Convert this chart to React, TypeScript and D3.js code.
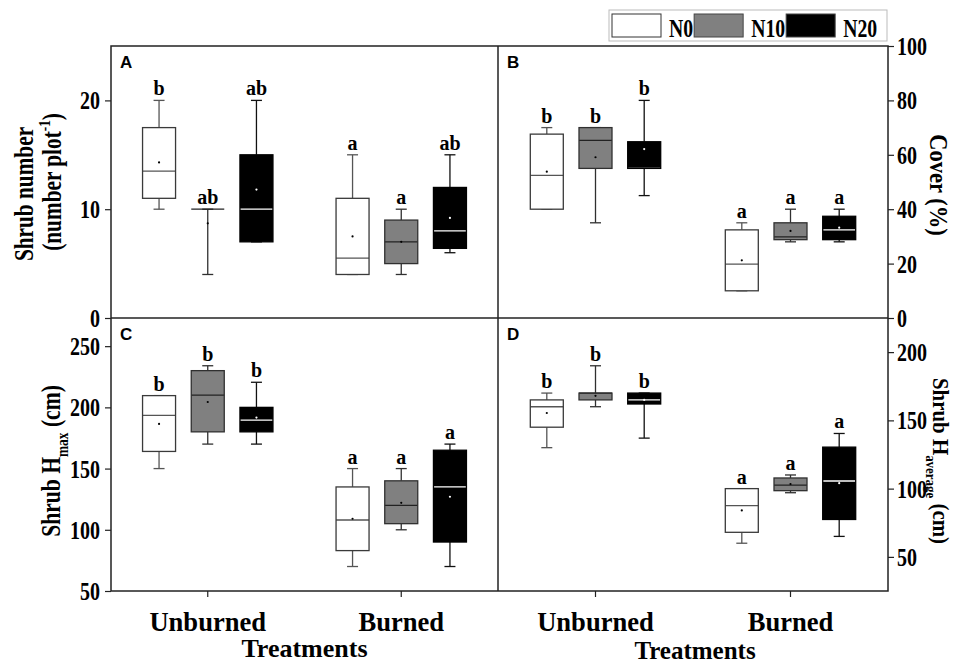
import * as d3 from "d3";
import { useEffect, useRef } from "react";

const treatments = ["Unburned", "Burned"];
const nLevels = ["N0", "N10", "N20"];

// each row: [min, q1, median, q3, max, mean], order: Unburned N0,N10,N20, Burned N0,N10,N20
const shrubNumber = [
  [10, 11, 13.5, 17.5, 20, 14.3],
  [4, 10, 10, 10, 10, 8.7],
  [7, 7, 10, 15, 20, 11.8],
  [4, 4, 5.5, 11, 15, 7.5],
  [4, 5, 7, 9, 10, 7.0],
  [6, 6.4, 8, 12, 15, 9.2],
];
const shrubNumberLetters = ["b", "ab", "ab", "a", "a", "ab"];

const cover = [
  [40, 40, 52.4, 67.6, 70, 53.8],
  [35, 55, 65.3, 70, 70, 59.1],
  [45, 55, 55, 64.8, 80, 62.1],
  [10, 10, 19.8, 32.4, 35, 21.2],
  [28, 28.8, 29.8, 35, 40, 32],
  [28, 28.8, 32.4, 37.4, 40, 33.2],
];
const coverLetters = ["b", "b", "b", "a", "a", "a"];

const hMax = [
  [150, 164, 193.4, 209.6, 209.6, 186.5],
  [170, 180, 210, 230, 234, 204.4],
  [170, 180, 189.5, 200, 220.5, 191.7],
  [70, 83, 108, 135, 150, 109],
  [100, 105, 120, 140, 150, 122],
  [70, 90, 135, 165, 170, 127],
];
const hMaxLetters = ["b", "b", "b", "a", "a", "a"];

const hAvg = [
  [130, 145, 160, 165, 170, 155.4],
  [160, 165, 170, 170, 190, 168],
  [137, 162, 165, 170, 170, 165],
  [60, 68, 87.5, 100, 100, 84],
  [97, 98.5, 102.6, 107.8, 110, 103.4],
  [65, 77.4, 105.6, 130.4, 140.4, 104],
];
const hAvgLetters = ["b", "b", "b", "a", "a", "a"];

const ticksA = [0, 10, 20];
const ticksB = [0, 20, 40, 60, 80, 100];
const ticksC = [50, 100, 150, 200, 250];
const ticksD = [50, 100, 150, 200];

const SERIF = "'Liberation Serif', 'Times New Roman', serif";
const SANS = "'Liberation Sans', Arial, sans-serif";

const fills = { N0: "#ffffff", N10: "#808080", N20: "#000000" };
const strokes = { N0: "#3a3a3a", N10: "#303030", N20: "#000000" };
const medians = { N0: "#555555", N10: "#222222", N20: "#ffffff" };
const whiskers = { N0: "#555555", N10: "#303030", N20: "#111111" };

type Seg = { t: string; sub?: boolean; sup?: boolean };

function addText(g, x, y, segs: Seg[] | string, o: any = {}) {
  const size = o.size ?? 20;
  const sx = o.sx ?? 1;
  const t = g
    .append("text")
    .attr("transform", `translate(${x},${y}) rotate(${o.rotate ?? 0}) scale(${sx},1)`)
    .attr("text-anchor", o.anchor ?? "middle")
    .attr("font-family", o.family ?? SERIF)
    .attr("font-weight", "bold")
    .attr("font-size", size)
    .attr("fill", "#000");
  const list: Seg[] = typeof segs === "string" ? [{ t: segs }] : segs;
  let shift = 0;
  list.forEach((s) => {
    let target = 0;
    if (s.sub) target = size * 0.3;
    if (s.sup) target = -size * 0.38;
    const ts = t.append("tspan").text(s.t).attr("dy", target - shift);
    if (s.sub || s.sup) ts.attr("font-size", size * 0.62);
    shift = target;
  });
  return t;
}

const App = () => {
  const ref = useRef<SVGSVGElement>(null);

  useEffect(() => {
    const svg = d3.select(ref.current);
    svg.selectAll("*").remove();

    const L = 111, M = 498, R = 888;
    const T = 46, MID = 318, B = 591;

    const panels = [
      { id: "A", data: shrubNumber, letters: shrubNumberLetters, x: [L, M], y: [MID, T], dom: [0, 25], ticks: ticksA, side: "left" },
      { id: "B", data: cover, letters: coverLetters, x: [M, R], y: [MID, T], dom: [0, 100], ticks: ticksB, side: "right" },
      { id: "C", data: hMax, letters: hMaxLetters, x: [L, M], y: [B, MID], dom: [50, 273], ticks: ticksC, side: "left" },
      { id: "D", data: hAvg, letters: hAvgLetters, x: [M, R], y: [B, MID], dom: [25, 225], ticks: ticksD, side: "right" },
    ];

    const boxW = 33;
    const capW = 11;

    panels.forEach((p) => {
      const y = d3.scaleLinear().domain(p.dom).range(p.y);
      const x0 = d3.scaleBand().domain(treatments).range(p.x as [number, number]);
      const x1 = d3.scalePoint().domain(nLevels).range([-48.7, 48.7]);
      const g = svg.append("g");

      // axis
      const axis = (p.side === "left" ? d3.axisLeft(y) : d3.axisRight(y))
        .tickValues(p.ticks)
        .tickSize(6)
        .tickFormat(d3.format("d"));
      const ax = g
        .append("g")
        .attr("transform", `translate(${p.side === "left" ? L : R},0)`)
        .call(axis);
      ax.select(".domain").remove();
      ax.selectAll(".tick line").attr("stroke", "#222").attr("stroke-width", 1.2);
      const sx = 0.8;
      ax.selectAll(".tick text")
        .attr("font-family", SERIF)
        .attr("font-weight", "bold")
        .attr("font-size", 25)
        .attr("fill", "#000")
        .attr("transform", `scale(${sx},1)`)
        .attr("x", (p.side === "left" ? -11 : 9) / sx)
        .attr("dy", "0.34em");

      // boxes
      p.data.forEach((row, i) => {
        const t = treatments[Math.floor(i / 3)];
        const n = nLevels[i % 3];
        const [mn, q1, md, q3, mx, mean] = row;
        const cx = (x0(t) as number) + x0.bandwidth() / 2 + (x1(n) as number);
        const bg = g.append("g");
        const wc = whiskers[n];
        bg.append("line").attr("x1", cx).attr("x2", cx).attr("y1", y(mx)).attr("y2", y(q3)).attr("stroke", wc).attr("stroke-width", 1.3);
        bg.append("line").attr("x1", cx).attr("x2", cx).attr("y1", y(q1)).attr("y2", y(mn)).attr("stroke", wc).attr("stroke-width", 1.3);
        [mn, mx].forEach((v) =>
          bg.append("line").attr("x1", cx - capW / 2).attr("x2", cx + capW / 2).attr("y1", y(v)).attr("y2", y(v)).attr("stroke", wc).attr("stroke-width", 1.3)
        );
        bg.append("rect")
          .attr("x", cx - boxW / 2)
          .attr("y", y(q3))
          .attr("width", boxW)
          .attr("height", y(q1) - y(q3))
          .attr("fill", fills[n]);
        bg.append("line").attr("x1", cx - boxW / 2).attr("x2", cx + boxW / 2).attr("y1", y(md)).attr("y2", y(md)).attr("stroke", medians[n]).attr("stroke-width", 1.3);
        bg.append("rect")
          .attr("x", cx - boxW / 2)
          .attr("y", y(q3))
          .attr("width", boxW)
          .attr("height", y(q1) - y(q3))
          .attr("fill", "none")
          .attr("stroke", strokes[n])
          .attr("stroke-width", 1.3);
        const inside = mean > q1 && mean < q3;
        bg.append("circle")
          .attr("cx", cx)
          .attr("cy", y(mean))
          .attr("r", 1.1)
          .attr("fill", n === "N20" && inside ? "#fff" : "#000");
        addText(bg, cx, y(mx) - 5, p.letters[i], { size: 20 });
      });

      // panel letter
      addText(g, p.x[0] + 9, p.y[1] + 22, p.id, { size: 17, family: SANS, anchor: "start" });
    });

    // bottom axis ticks + category labels
    [[L, M], [M, R]].forEach(([a, b]) => {
      const x0 = d3.scaleBand().domain(treatments).range([a, b]);
      const ax = svg
        .append("g")
        .attr("transform", `translate(0,${B})`)
        .call(d3.axisBottom(x0).tickSize(6).tickFormat(() => ""));
      ax.select(".domain").remove();
      ax.selectAll(".tick line").attr("stroke", "#222").attr("stroke-width", 1.2);
      treatments.forEach((t) => {
        addText(svg, (x0(t) as number) + x0.bandwidth() / 2, 631, t, { size: 28, sx: 0.95 });
      });
    });
    addText(svg, (L + M) / 2, 657, "Treatments", { size: 26 });
    addText(svg, (M + R) / 2 + 2, 659, "Treatments", { size: 25 });

    // frame
    const frame = svg.append("g").attr("stroke", "#222").attr("stroke-width", 1.5).attr("fill", "none");
    frame.append("rect").attr("x", L).attr("y", T).attr("width", R - L).attr("height", B - T);
    frame.append("line").attr("x1", M).attr("x2", M).attr("y1", T).attr("y2", B);
    frame.append("line").attr("x1", L).attr("x2", R).attr("y1", MID).attr("y2", MID);

    // y titles
    addText(svg, 33, 194, "Shrub number", { size: 28, sx: 0.76, rotate: -90 });
    addText(svg, 61, 182, [{ t: "(number plot" }, { t: "-1", sup: true }, { t: ")" }], { size: 28, sx: 0.76, rotate: -90 });
    addText(svg, 60, 461, [{ t: "Shrub H" }, { t: "max", sub: true }, { t: " (cm)" }], { size: 27, sx: 0.8, rotate: -90 });
    addText(svg, 930, 185, "Cover (%)", { size: 25, sx: 0.9, rotate: 90 });
    addText(svg, 933, 461, [{ t: "Shrub H" }, { t: "average", sub: true }, { t: " (cm)" }], { size: 24, sx: 0.87, rotate: 90 });

    // legend
    const lg = svg.append("g");
    lg.append("rect").attr("x", 609).attr("y", 10).attr("width", 278).attr("height", 31).attr("fill", "#fff").attr("stroke", "#bbb").attr("stroke-width", 1);
    let lx = 612;
    nLevels.forEach((n) => {
      lg.append("rect").attr("x", lx).attr("y", 14).attr("width", 49).attr("height", 23).attr("fill", fills[n]).attr("stroke", n === "N0" ? "#333" : "#444").attr("stroke-width", 1);
      lx += 49 + 8;
      const sx = 0.76;
      const t = addText(lg, lx, 37, n, { size: 26, sx, anchor: "start" });
      const w = (t.node() as SVGTextElement).getComputedTextLength() * sx;
      lx += w + 1;
    });
  }, []);

  return (
    <svg
      ref={ref}
      width={957}
      height={664}
      style={{ position: "absolute", left: 0, top: 0, background: "#fff", display: "block" }}
    />
  );
};

export default App;
